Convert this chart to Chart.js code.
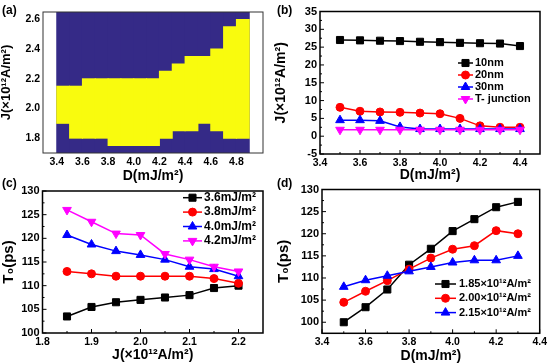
<!DOCTYPE html>
<html>
<head>
<meta charset="utf-8">
<script src="https://cdn.jsdelivr.net/npm/chart.js@4.4.0/dist/chart.umd.min.js"></script>
<style>
  body { margin: 0; background: #fff; }
  #wrap { position: relative; width: 550px; height: 364px; overflow: hidden; }
  canvas { position: absolute; left: 0; top: 0; }
  .tag { position: absolute; font: bold 12px "Liberation Sans", Arial, sans-serif; line-height: 1; color: #000; }
</style>
</head>
<body>
<div id="wrap">
  <canvas id="chart-a" width="550" height="364"></canvas>
  <canvas id="chart-b" width="550" height="364"></canvas>
  <canvas id="chart-c" width="550" height="364"></canvas>
  <canvas id="chart-d" width="550" height="364"></canvas>
  <div class="tag" style="left:2px;top:4px">(a)</div>
  <div class="tag" style="left:277px;top:4px">(b)</div>
  <div class="tag" style="left:2px;top:177px">(c)</div>
  <div class="tag" style="left:277px;top:177px">(d)</div>
</div>
<script>
const FONT = '"Liberation Sans", Arial, sans-serif';

// (a) phase map: yellow band between low and high J for each D column
const aD = [3.45, 3.55, 3.65, 3.75, 3.85, 3.95, 4.05, 4.15, 4.25, 4.35, 4.45, 4.55, 4.65, 4.75, 4.85];
const aJLow = [1.90, 1.80, 1.80, 1.80, 1.75, 1.75, 1.75, 1.75, 1.80, 1.85, 1.85, 1.90, 1.85, 1.80, 1.80];
const aJHigh = [2.15, 2.15, 2.20, 2.20, 2.20, 2.20, 2.20, 2.20, 2.25, 2.30, 2.35, 2.35, 2.40, 2.55, 2.60];
const aJRange = [1.70, 2.65];
const aXTicks = [3.4, 3.6, 3.8, 4.0, 4.2, 4.4, 4.6, 4.8];
const aYTicks = [1.8, 2.0, 2.2, 2.4, 2.6];

// (b) critical current vs D
const bD = [3.5, 3.6, 3.7, 3.8, 3.9, 4.0, 4.1, 4.2, 4.3, 4.4];
const b10 = [27.0, 26.9, 26.8, 26.7, 26.5, 26.4, 26.2, 26.1, 26.0, 25.3];
const b20 = [8.1, 7.0, 6.8, 6.7, 6.5, 6.3, 5.0, 2.9, 2.5, 2.5];
const b30 = [4.5, 4.5, 4.3, 2.6, 2.0, 2.0, 2.0, 2.0, 2.0, 2.0];
const bT = [1.8, 1.8, 1.8, 1.8, 1.8, 1.8, 1.8, 1.8, 1.8, 1.8];
const bXTicks = [3.4, 3.6, 3.8, 4.0, 4.2, 4.4];
const bYTicks = [-5, 0, 5, 10, 15, 20, 25, 30, 35];

// (c) T0 vs J
const cJ = [1.85, 1.90, 1.95, 2.00, 2.05, 2.10, 2.15, 2.20];
const c36 = [103.5, 105.5, 106.5, 107.0, 107.5, 108.0, 109.5, 110.0];
const c38 = [113.0, 112.5, 112.0, 112.0, 112.0, 112.0, 111.5, 110.5];
const c40 = [120.7, 118.7, 117.3, 116.5, 115.5, 114.0, 113.5, 112.0];
const c42 = [126.0, 123.5, 121.0, 120.7, 116.7, 115.5, 114.0, 113.0];
const cXTicks = [1.8, 1.9, 2.0, 2.1, 2.2];
const cYTicks = [100, 105, 110, 115, 120, 125, 130];

// (d) T0 vs D
const dD = [3.5, 3.6, 3.7, 3.8, 3.9, 4.0, 4.1, 4.2, 4.3];
const d185 = [100.0, 103.4, 107.4, 113.0, 116.6, 120.6, 123.3, 126.0, 127.2];
const d200 = [104.5, 107.0, 109.4, 112.0, 114.5, 116.5, 117.3, 120.7, 120.0];
const d215 = [108.0, 109.5, 110.5, 111.5, 112.5, 113.5, 114.0, 114.0, 115.0];
const dXTicks = [3.4, 3.6, 3.8, 4.0, 4.2, 4.4];
const dYTicks = [100, 105, 110, 115, 120, 125, 130];

function marker(ctx, style, r, rot, x, y) {
  if (Chart.helpers && Chart.helpers.drawPoint) {
    Chart.helpers.drawPoint(ctx, { pointStyle: style, radius: r, rotation: rot || 0, borderWidth: 1 }, x, y);
    return;
  }
  ctx.beginPath();
  if (style === 'rect') {
    const s = r * Math.SQRT1_2;
    ctx.rect(x - s, y - s, 2 * s, 2 * s);
  } else if (style === 'triangle') {
    const k = rot ? -1 : 1;
    ctx.moveTo(x, y - k * r);
    ctx.lineTo(x + r * 0.866, y + k * r * 0.5);
    ctx.lineTo(x - r * 0.866, y + k * r * 0.5);
    ctx.closePath();
  } else {
    ctx.arc(x, y, r, 0, Math.PI * 2);
  }
  ctx.fill();
  ctx.stroke();
}

// box round the plot, with small inward ticks
const framePlugin = {
  id: 'frame',
  afterDatasetsDraw(chart, args, opts) {
    const { ctx, chartArea: a } = chart;
    ctx.save();
    ctx.strokeStyle = opts.color || '#000';
    ctx.lineWidth = 1;
    if (opts.ticks) {
      ['x', 'y'].forEach(id => {
        const sc = chart.scales[id];
        const vals = sc.ticks.map(t => t.value);
        const step = vals[1] - vals[0];
        const minor = [];
        vals.forEach(v => { if (v + step / 2 < sc.max) minor.push(v + step / 2); });
        const draw = (v, len) => {
          const p = sc.getPixelForValue(v);
          ctx.beginPath();
          if (id === 'x') { ctx.moveTo(p, a.bottom); ctx.lineTo(p, a.bottom - len); }
          else { ctx.moveTo(a.left, p); ctx.lineTo(a.left + len, p); }
          ctx.stroke();
        };
        vals.forEach(v => draw(v, 4));
        minor.forEach(v => draw(v, 2));
      });
    }
    ctx.lineWidth = opts.width || 1.5;
    ctx.strokeRect(a.left, a.top, a.width, a.height);
    ctx.restore();
  }
};

// legend drawn inside the plot: line + marker + label
const legendPlugin = {
  id: 'inLegend',
  afterDraw(chart, args, o) {
    if (o.x === undefined) return;
    const ctx = chart.ctx;
    chart.data.datasets.forEach((ds, i) => {
      const y = o.y + i * o.dy;
      ctx.save();
      ctx.strokeStyle = ds.borderColor;
      ctx.lineWidth = 1.5;
      ctx.beginPath();
      ctx.moveTo(o.x, y);
      ctx.lineTo(o.x + o.len, y);
      ctx.stroke();
      ctx.fillStyle = ds.pointBackgroundColor;
      ctx.lineWidth = 1;
      marker(ctx, ds.pointStyle, ds.pointRadius, ds.pointRotation, o.x + o.len / 2, y);
      ctx.fillStyle = '#000';
      ctx.font = 'bold ' + o.size + 'px ' + FONT;
      ctx.textBaseline = 'middle';
      ctx.textAlign = 'left';
      ctx.fillText(ds.label, o.x + o.len + o.gap, y);
      ctx.restore();
    });
  }
};

function axis(min, max, ticks, dec, title, titleSize, boxSize, isY, tickSize) {
  return {
    type: 'linear',
    min: min,
    max: max,
    grid: { display: false, drawTicks: false },
    border: { display: false },
    afterBuildTicks: s => { s.ticks = ticks.map(v => ({ value: v })); },
    afterFit: s => { if (isY) s.width = boxSize; else s.height = boxSize; },
    ticks: {
      color: '#000',
      padding: 3,
      maxRotation: 0,
      autoSkip: false,
      font: { family: FONT, size: tickSize || 10.5, weight: 'bold' },
      callback: v => Number(v).toFixed(dec)
    },
    title: {
      display: true,
      text: title,
      color: '#000',
      padding: 0,
      font: { family: FONT, size: titleSize, weight: 'bold', lineHeight: 1 }
    }
  };
}

function series(label, xs, ys, color, style, radius, rot, order) {
  return {
    label: label,
    data: xs.map((x, i) => ({ x: x, y: ys[i] })),
    borderColor: color,
    backgroundColor: color,
    borderWidth: 1.5,
    pointStyle: style,
    pointRadius: radius,
    pointRotation: rot,
    pointBorderWidth: 1,
    pointBackgroundColor: color,
    pointBorderColor: color,
    tension: 0,
    order: order
  };
}

function baseOptions(padding, xAxis, yAxis, frame, legend) {
  return {
    responsive: false,
    animation: false,
    events: [],
    layout: { padding: padding },
    scales: { x: xAxis, y: yAxis },
    plugins: {
      legend: { display: false },
      tooltip: { enabled: false },
      frame: frame,
      inLegend: legend
    }
  };
}

const J_TITLE = 'J(×10¹²A/m²)';
const D_TITLE = 'D(mJ/m²)';
const T_TITLE = 'T₀(ps)';

// (a)
new Chart(document.getElementById('chart-a'), {
  type: 'bar',
  data: {
    datasets: [
      {
        label: 'skyrmion',
        data: aD.map((d, i) => ({ x: d, y: [aJLow[i], aJHigh[i]] })),
        backgroundColor: '#f9fb0e',
        borderWidth: 0,
        inflateAmount: 0.5,
        barPercentage: 1,
        categoryPercentage: 1,
        grouped: false,
        order: 0
      },
      {
        label: 'other',
        data: aD.map(d => ({ x: d, y: aJRange })),
        backgroundColor: '#352a87',
        borderWidth: 0,
        inflateAmount: 0.5,
        barPercentage: 1,
        categoryPercentage: 1,
        grouped: false,
        order: 1
      }
    ]
  },
  options: baseOptions(
    { left: 0, right: 287, top: 12, bottom: 181 },
    axis(3.4, 4.9, aXTicks, 1, D_TITLE, 14, 30, false),
    axis(aJRange[0], aJRange[1], aYTicks, 1, J_TITLE, 13, 43, true),
    { ticks: false, width: 1, color: '#333' },
    {}
  ),
  plugins: [framePlugin, legendPlugin]
});

// (b)
new Chart(document.getElementById('chart-b'), {
  type: 'line',
  data: {
    datasets: [
      series('10nm', bD, b10, '#000000', 'rect', 5, 0, 3),
      series('20nm', bD, b20, '#ff0000', 'circle', 4, 0, 2),
      series('30nm', bD, b30, '#0000ff', 'triangle', 5, 0, 1),
      series('T- junction', bD, bT, '#ff00ff', 'triangle', 5, 180, 0)
    ]
  },
  options: baseOptions(
    { left: 274.5, right: 10, top: 11.5, bottom: 182.3 },
    axis(3.4, 4.5, bXTicks, 1, D_TITLE, 14, 27.7, false),
    axis(-5, 35, bYTicks, 0, J_TITLE, 14, 45.5, true, 11),
    { ticks: true },
    { x: 458, y: 63, dy: 12, len: 15, gap: 2, size: 11 }
  ),
  plugins: [framePlugin, legendPlugin]
});

// (c)
new Chart(document.getElementById('chart-c'), {
  type: 'line',
  data: {
    datasets: [
      series('3.6mJ/m²', cJ, c36, '#000000', 'rect', 5, 0, 3),
      series('3.8mJ/m²', cJ, c38, '#ff0000', 'circle', 4, 0, 2),
      series('4.0mJ/m²', cJ, c40, '#0000ff', 'triangle', 5, 0, 1),
      series('4.2mJ/m²', cJ, c42, '#ff00ff', 'triangle', 5, 180, 0)
    ]
  },
  options: baseOptions(
    { left: 1.5, right: 287, top: 191, bottom: 1.7 },
    axis(1.8, 2.25, cXTicks, 1, J_TITLE, 14, 29.3, false),
    axis(100, 130, cYTicks, 0, T_TITLE, 15, 41, true, 11),
    { ticks: true },
    { x: 183, y: 197.7, dy: 14.4, len: 19, gap: 2, size: 12 }
  ),
  plugins: [framePlugin, legendPlugin]
});

// (d)
new Chart(document.getElementById('chart-d'), {
  type: 'line',
  data: {
    datasets: [
      series('1.85×10¹²A/m²', dD, d185, '#000000', 'rect', 5, 0, 2),
      series('2.00×10¹²A/m²', dD, d200, '#ff0000', 'circle', 4, 0, 1),
      series('2.15×10¹²A/m²', dD, d215, '#0000ff', 'triangle', 5, 0, 0)
    ]
  },
  options: baseOptions(
    { left: 276.5, right: 8, top: 189.5, bottom: 1 },
    axis(3.4, 4.4, dXTicks, 1, D_TITLE, 14, 29.7, false),
    axis(97.5, 130, dYTicks, 0, T_TITLE, 15, 45.5, true, 11),
    { ticks: true },
    { x: 435, y: 284, dy: 14.3, len: 21, gap: 3, size: 11 }
  ),
  plugins: [framePlugin, legendPlugin]
});
</script>
</body>
</html>
